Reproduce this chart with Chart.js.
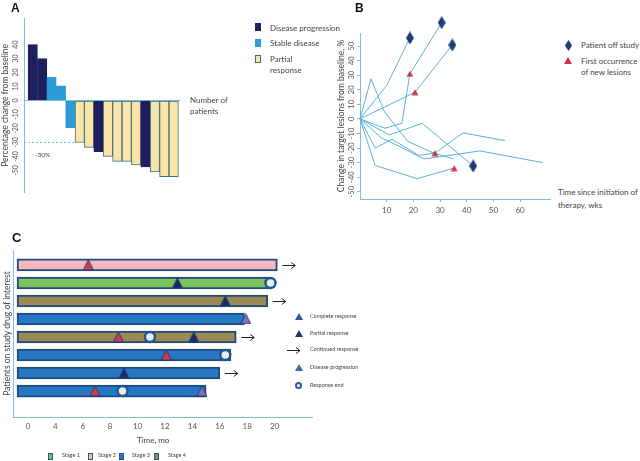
<!DOCTYPE html>
<html>
<head>
<meta charset="utf-8">
<script src="https://cdn.jsdelivr.net/npm/chart.js@4.4.1/dist/chart.umd.min.js"></script>
<style>
body { margin: 0; background: #fff; }
#page { position: relative; width: 640px; height: 461px; overflow: hidden; font-family: Lato, "Open Sans", sans-serif; color: #444; }
canvas { position: absolute; }
.t { position: absolute; white-space: nowrap; line-height: 1; transform: translateY(-50%); }
.panel { position: absolute; font-weight: bold; font-family: "Liberation Sans", Arial, sans-serif; color: #111; }
.sq { position: absolute; box-sizing: border-box; }
svg { position: absolute; overflow: visible; }
</style>
</head>
<body>
<div id="page">
  <canvas id="chartA" width="182" height="200" style="left:0;top:0"></canvas>
  <canvas id="chartB" width="222" height="219" style="left:330px;top:0"></canvas>
  <canvas id="chartC" width="315" height="205" style="left:0;top:245px"></canvas>

  <!-- panel A texts -->
  <div class="panel" style="left:11px;top:1px;font-size:12px">A</div>
  <div class="sq" style="left:255px;top:23px;width:6px;height:8px;background:#1f1f5f"></div>
  <div class="sq" style="left:255px;top:39px;width:6px;height:8px;background:#2d9bd8"></div>
  <div class="sq" style="left:255px;top:55px;width:6px;height:8px;background:#fce4a8;border:1px solid #3d6f7d"></div>
  <div class="t" style="left:270px;top:28px;font-size:8px">Disease progression</div>
  <div class="t" style="left:270px;top:43px;font-size:8px">Stable disease</div>
  <div class="t" style="left:270px;top:59px;font-size:8px">Partial</div>
  <div class="t" style="left:270px;top:70px;font-size:8px">response</div>
  <div class="t" style="left:190px;top:100px;font-size:8px">Number of</div>
  <div class="t" style="left:190px;top:111px;font-size:8px">patients</div>
  <div class="t" style="left:35px;top:155px;font-size:6.5px">-30%</div>

  <!-- panel B texts -->
  <div class="panel" style="left:355px;top:1px;font-size:12px">B</div>
  <svg style="left:565px;top:40px" width="7" height="11"><path d="M3.5 0 L7 5.5 L3.5 11 L0 5.5 Z" fill="#1c3b78"/></svg>
  <svg style="left:564px;top:57px" width="8" height="7"><path d="M4 0 L8 7 L0 7 Z" fill="#c43a4d"/></svg>
  <div class="t" style="left:581px;top:45px;font-size:8px">Patient off study</div>
  <div class="t" style="left:581px;top:61px;font-size:8px">First occurrence</div>
  <div class="t" style="left:581px;top:72px;font-size:8px">of new lesions</div>
  <div class="t" style="left:558px;top:192px;font-size:8px">Time since initiation of</div>
  <div class="t" style="left:558px;top:205px;font-size:8px">therapy, wks</div>

  <!-- panel C texts -->
  <div class="panel" style="left:12px;top:230px;font-size:13px">C</div>
  <div class="t" style="left:137px;top:440px;font-size:8px">Time, mo</div>
  <svg style="left:295px;top:313px" width="8" height="7"><path d="M4 0 L8 7 L0 7 Z" fill="#2c5a9a"/></svg>
  <svg style="left:295px;top:330px" width="8" height="7"><path d="M4 0 L8 7 L0 7 Z" fill="#1c3a6e"/></svg>
  <svg style="left:287px;top:347px" width="14" height="7"><path d="M0 3.5 H13 M9 0.5 L13 3.5 L9 6.5" stroke="#222" stroke-width="1" fill="none"/></svg>
  <svg style="left:295px;top:364px" width="8" height="7"><path d="M4 0 L8 7 L0 7 Z" fill="#3a6aaa"/></svg>
  <svg style="left:295px;top:382px" width="7" height="7"><circle cx="3.5" cy="3.5" r="2.5" fill="#fff" stroke="#2c5a9a" stroke-width="2"/></svg>
  <div class="t" style="left:310px;top:317px;font-size:5.5px">Complete response</div>
  <div class="t" style="left:310px;top:334px;font-size:5.5px">Partial response</div>
  <div class="t" style="left:310px;top:350px;font-size:5.5px">Continued response</div>
  <div class="t" style="left:310px;top:368px;font-size:5.5px">Disease progression</div>
  <div class="t" style="left:310px;top:386px;font-size:5.5px">Response end</div>

  <div class="sq" style="left:48px;top:453px;width:5px;height:7px;background:#7cc35e;border:1px solid #2a5a7a"></div>
  <div class="sq" style="left:88px;top:453px;width:5px;height:7px;background:#f5b8c2;border:1px solid #2a5a7a"></div>
  <div class="sq" style="left:119px;top:453px;width:5px;height:7px;background:#2678c6;border:1px solid #2a5a7a"></div>
  <div class="sq" style="left:154px;top:453px;width:5px;height:7px;background:#9c8a56;border:1px solid #2a5a7a"></div>
  <div class="t" style="left:62px;top:456px;font-size:5.5px">Stage 1</div>
  <div class="t" style="left:98px;top:456px;font-size:5.5px">Stage 2</div>
  <div class="t" style="left:132px;top:456px;font-size:5.5px">Stage 3</div>
  <div class="t" style="left:168px;top:456px;font-size:5.5px">Stage 4</div>
</div>

<script>
// ---------- Panel A: waterfall ----------
const changeA = [40, 30, 16.5, 10.5, -19.5, -30, -33.5, -36.5, -40, -43.5, -43.5, -46, -47.5, -51, -54.5, -54.5];
const responseA = ["PD", "PD", "SD", "SD", "SD", "PR", "PR", "PD", "PR", "PR", "PR", "PR", "PD", "PR", "PR", "PR"];
const ticksA = [40, 30, 20, 10, 0, -10, -20, -30, -40, -50];
const thresholdA = -30;

// ---------- Panel B: spider plot (weeks, % change) ----------
const patient1 = [[0, 0], [10, 23], [18.7, 55.6]];
const patient2 = [[0, 0], [9.4, -6.4], [15.7, -3], [18.7, 31], [30.6, 66.1]];
const patient3 = [[0, 0], [20.6, 18.3], [34.6, 50.8]];
const patient4 = [[0, 0], [4.1, 27.5], [9.2, 4.8], [18, -15.5], [27, -23], [35, -27.5]];
const patient5 = [[0, 0], [11, -11], [23.3, -3], [42.4, -32.3]];
const patient6 = [[0, 0], [5.7, -20], [12, -14], [22, -25], [28.1, -23.5], [38.6, -9.6], [54.3, -14.9]];
const patient7 = [[0, 0], [8, -13], [16, -20], [24, -27.5], [44.9, -22], [68.5, -30]];
const patient8 = [[0, 0], [5.7, -32], [21.4, -41], [35.3, -33.8]];
const offStudyB = [[18.7, 55.6], [30.6, 66.1], [34.6, 50.8], [42.4, -32.3]];
const newLesionsB = [[18.7, 31], [20.6, 18.3], [28.1, -23.5], [35.3, -33.8]];
const xTicksB = [10, 20, 30, 40, 50, 60];
const yTicksB = [50, 40, 30, 20, 10, 0, -10, -20, -30, -40, -50];

// ---------- Panel C: swimmer plot (months) ----------
const tickMonthsC = [0, 4, 6, 8, 10, 12, 14, 16, 18, 20];
const stageC = [2, 1, 4, 3, 4, 3, 3, 3];
const startC = -1.6;
const endC = [20.2, 19.7, 19.5, 17.8, 17.2, 16.8, 16.0, 15.0];
const continuedC = [true, false, true, false, true, false, true, false];
const redTriC = [[0, 6.4], [4, 8.6], [5, 12.1], [7, 6.9]];
const navyTriC = [[1, 12.9], [2, 16.4], [4, 14.1], [6, 9.0]];
const purpleTriC = [[3, 17.9], [7, 14.7]];
const responseEndC = [[1, 19.7], [4, 10.9], [5, 16.4], [7, 8.9]];

Chart.defaults.font.family = "Lato, 'Open Sans', sans-serif";
Chart.defaults.color = "#555";

const axisBlue = "#7cc0da";
const fillA = { PD: "#1f1f5f", SD: "#2d9bd8", PR: "#fce4a8" };
const edgeA = { PD: "#1f1f5f", SD: "#2d9bd8", PR: "#3d6f7d" };
const stageFill = ["#7cc35e", "#f5b8c2", "#2678c6", "#9c8a56"];

// dashed -30% line up to the first bar that reaches it
const thresholdPlugin = {
    id: "threshold",
    afterDatasetsDraw(chart) {
        const { ctx, chartArea, scales } = chart;
        const idx = changeA.findIndex(v => v <= thresholdA);
        const bar = chart.getDatasetMeta(0).data[idx];
        const py = Math.round(scales.y.getPixelForValue(thresholdA)) + 0.5;
        ctx.save();
        ctx.strokeStyle = axisBlue;
        ctx.lineWidth = 1;
        ctx.setLineDash([2, 2]);
        ctx.beginPath();
        ctx.moveTo(chartArea.left, py);
        ctx.lineTo(bar.x - bar.width / 2, py);
        ctx.stroke();
        ctx.restore();
    }
};

new Chart(document.getElementById("chartA"), {
    type: "bar",
    data: {
        datasets: [{
            data: changeA.map((v, i) => ({ x: i, y: v })),
            backgroundColor: responseA.map(r => fillA[r]),
            borderColor: responseA.map(r => edgeA[r]),
            borderWidth: 1,
            borderSkipped: false,
            categoryPercentage: 1,
            barPercentage: 1,
        }]
    },
    options: {
        responsive: false,
        animation: false,
        layout: { autoPadding: false, padding: { top: 18, bottom: 3, right: 2, left: 0 } },
        plugins: { legend: { display: false }, tooltip: { enabled: false } },
        scales: {
            x: {
                type: "linear", min: -0.93, max: 15.67, offset: false, display: false,
                afterBuildTicks: s => { s.ticks = changeA.map((v, i) => ({ value: i })); }
            },
            y: {
                min: -66,
                max: 59,
                afterFit: s => { s.width = 24; },
                afterBuildTicks: s => { s.ticks = ticksA.map(v => ({ value: v })); },
                border: { color: axisBlue },
                grid: {
                    drawTicks: false,
                    color: c => (c.tick && c.tick.value === 0 ? axisBlue : "rgba(0,0,0,0)")
                },
                ticks: { minRotation: 90, maxRotation: 90, crossAlign: "center", padding: 3, font: { size: 7 } },
                title: { display: true, text: "Percentage change from baseline", font: { size: 8.5 }, padding: 0, color: "#444" }
            }
        }
    },
    plugins: [thresholdPlugin]
});

// marker images
function diamondImg(color) {
    const c = document.createElement("canvas");
    c.width = 8; c.height = 13;
    const g = c.getContext("2d");
    g.fillStyle = color;
    g.beginPath();
    g.moveTo(4, 0); g.lineTo(8, 6.5); g.lineTo(4, 13); g.lineTo(0, 6.5);
    g.closePath();
    g.fill();
    return c;
}
function triangleImg(fill, edge, w, h) {
    const c = document.createElement("canvas");
    c.width = w; c.height = h;
    const g = c.getContext("2d");
    g.fillStyle = fill;
    g.strokeStyle = edge;
    g.lineWidth = 1;
    g.beginPath();
    g.moveTo(w / 2, 0.5); g.lineTo(w - 0.5, h - 0.5); g.lineTo(0.5, h - 0.5);
    g.closePath();
    g.fill();
    if (edge) g.stroke();
    return c;
}

// markers above the top of the y axis are skipped by Chart.js; draw them too
const outsidePoints = {
    id: "outsidePoints",
    afterDatasetsDraw(chart) {
        const area = chart.chartArea;
        chart.data.datasets.forEach((ds, i) => {
            if (ds.showLine) return;
            chart.getDatasetMeta(i).data.forEach(pt => {
                if (pt.y < area.top) pt.draw(chart.ctx);
            });
        });
    }
};

const patientsB = [patient1, patient2, patient3, patient4, patient5, patient6, patient7, patient8];
const toXY = arr => arr.map(p => ({ x: p[0], y: p[1] }));

new Chart(document.getElementById("chartB"), {
    type: "scatter",
    data: {
        datasets: [
            {
                label: "Patient off study",
                data: toXY(offStudyB),
                pointStyle: diamondImg("#1c3b78"),
                clip: false,
            },
            {
                label: "First occurrence of new lesions",
                data: toXY(newLesionsB),
                pointStyle: triangleImg("#c43a4d", null, 8, 7),
                clip: false,
            },
        ].concat(patientsB.map((p, i) => ({
            label: "Patient " + (i + 1),
            data: toXY(p),
            showLine: true,
            borderColor: "#5ab4d4",
            borderWidth: 1,
            pointRadius: 0,
            clip: false,
        })))
    },
    options: {
        responsive: false,
        animation: false,
        layout: { autoPadding: false, padding: { top: 33, right: 2, left: 0, bottom: 0 } },
        plugins: { legend: { display: false }, tooltip: { enabled: false } },
        scales: {
            x: {
                min: 0,
                max: 71.2,
                afterFit: s => { s.height = 20; },
                afterBuildTicks: s => { s.ticks = xTicksB.map(v => ({ value: v })); },
                border: { color: axisBlue },
                grid: { drawOnChartArea: false, tickLength: 3, tickColor: axisBlue },
                ticks: { padding: 4, font: { size: 8 } }
            },
            y: {
                min: -55,
                max: 59,
                afterFit: s => { s.width = 30; },
                afterBuildTicks: s => { s.ticks = yTicksB.map(v => ({ value: v })); },
                border: { color: axisBlue },
                grid: { drawOnChartArea: false, tickLength: 3, tickColor: axisBlue },
                ticks: { minRotation: 90, maxRotation: 90, crossAlign: "center", padding: 0, font: { size: 7.5 } },
                title: { display: true, text: "Change in target lesions from baseline, %", font: { size: 8.5 }, padding: { top: 6 }, color: "#444" }
            }
        }
    },
    plugins: [outsidePoints]
});

// months -> evenly spaced tick position (the printed ticks are not to scale)
function toIdx(m) {
    let k = 0;
    while (k < tickMonthsC.length - 2 && m > tickMonthsC[k + 1]) k++;
    const a = tickMonthsC[k], b = tickMonthsC[k + 1];
    return k + (m - a) / (b - a);
}
const rowPts = arr => arr.map(p => ({ x: toIdx(p[1]), y: p[0] }));

const arrowPlugin = {
    id: "arrows",
    afterDatasetsDraw(chart) {
        const { ctx, scales } = chart;
        ctx.save();
        ctx.strokeStyle = "#222";
        ctx.lineWidth = 1;
        continuedC.forEach((c, i) => {
            if (!c) return;
            const x0 = scales.x.getPixelForValue(toIdx(endC[i])) + 5;
            const y0 = Math.round(scales.y.getPixelForValue(i)) + 0.5;
            ctx.beginPath();
            ctx.moveTo(x0, y0);
            ctx.lineTo(x0 + 13, y0);
            ctx.moveTo(x0 + 9, y0 - 3);
            ctx.lineTo(x0 + 13, y0);
            ctx.lineTo(x0 + 9, y0 + 3);
            ctx.stroke();
        });
        ctx.restore();
    }
};

new Chart(document.getElementById("chartC"), {
    type: "bar",
    data: {
        datasets: [
            {
                type: "scatter",
                label: "Complete response",
                data: rowPts(redTriC),
                pointStyle: triangleImg("#d6394a", "#1e3f6e", 11, 11),
            },
            {
                type: "scatter",
                label: "Partial response",
                data: rowPts(navyTriC),
                pointStyle: triangleImg("#1b2a66", "#1e3f6e", 11, 11),
            },
            {
                type: "scatter",
                label: "Disease progression",
                data: rowPts(purpleTriC),
                pointStyle: triangleImg("#8a6cc0", "#1e3f6e", 11, 11),
            },
            {
                type: "scatter",
                label: "Response end",
                data: rowPts(responseEndC),
                pointStyle: "circle",
                radius: 5,
                backgroundColor: "#e8edf0",
                borderColor: "#1f5690",
                borderWidth: 2.5,
            },
            {
                type: "bar",
                label: "Patients",
                indexAxis: "y",
                data: endC.map((e, i) => ({ x: [toIdx(startC), toIdx(e)], y: i })),
                backgroundColor: stageC.map(s => stageFill[s - 1]),
                borderColor: "#1f4d78",
                borderWidth: 2,
                borderSkipped: false,
                barThickness: 12,
            },
        ]
    },
    options: {
        responsive: false,
        animation: false,
        layout: { autoPadding: false, padding: { top: 5, right: 3, left: 0, bottom: 0 } },
        plugins: { legend: { display: false }, tooltip: { enabled: false } },
        scales: {
            x: {
                type: "linear",
                offset: false,
                min: -0.547,
                max: 10.365,
                afterFit: s => { s.height = 33; },
                afterBuildTicks: s => { s.ticks = tickMonthsC.map((m, i) => ({ value: i })); },
                border: { color: axisBlue },
                grid: { display: false, drawTicks: false },
                ticks: { padding: 5, font: { size: 8 }, callback: (v, i) => String(tickMonthsC[i]) }
            },
            y: {
                type: "linear",
                offset: false,
                reverse: true,
                min: -0.83,
                max: 8.44,
                afterFit: s => { s.width = 13; },
                border: { color: axisBlue },
                grid: { display: false, drawTicks: false },
                ticks: { display: false },
                title: { display: true, text: "Patients on study drug of interest", font: { size: 8.5 }, padding: { top: 2 }, color: "#444" }
            }
        }
    },
    plugins: [arrowPlugin]
});
</script>
</body>
</html>
